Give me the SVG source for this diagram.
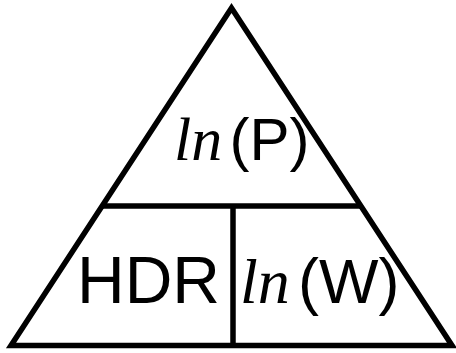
<svg xmlns="http://www.w3.org/2000/svg" width="456" height="353" viewBox="0 0 456 353">
<style>
.ln{stroke:#000;stroke-width:5.5;fill:none;stroke-linejoin:miter;stroke-miterlimit:10}
.it{font-family:"Liberation Serif","Times New Roman",serif;font-style:italic}
.sf{font-family:"Liberation Sans",Arial,sans-serif}
</style>
<rect width="456" height="353" fill="#fff"/>
<g id="frame">
<polygon class="ln" points="231.5,8 452,345.5 11,345.5"/>
<line class="ln" x1="102" y1="206" x2="361" y2="206"/>
<line class="ln" x1="233" y1="206" x2="233" y2="345.5"/>
</g>
<g id="top">
<text y="160"><tspan class="it" x="174" font-size="62">ln</tspan><tspan class="sf" x="229.5" font-size="60">(P)</tspan></text>
</g>
<g id="left">
<text class="sf" x="77" y="303" font-size="66">HDR</text>
</g>
<g id="right">
<text y="303"><tspan class="it" x="240" font-size="64">ln</tspan><tspan class="sf" x="298" font-size="63">(W)</tspan></text>
</g>
</svg>
